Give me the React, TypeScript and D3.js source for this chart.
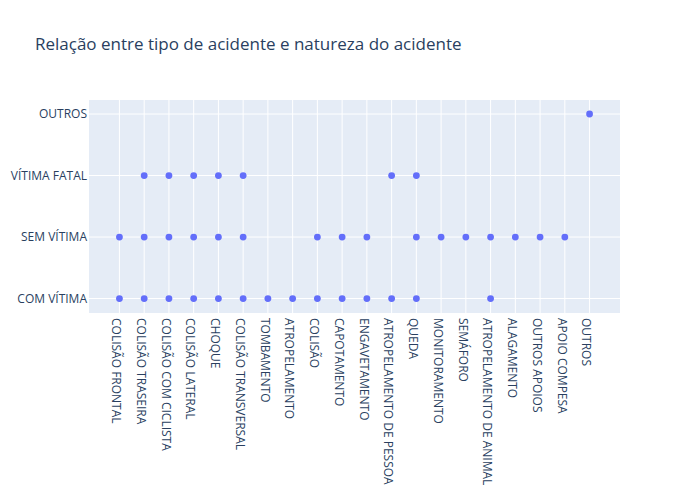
import React from "react";
import * as d3 from "d3";

const title = "Relação entre tipo de acidente e natureza do acidente";

const tipos = [
  "COLISÃO FRONTAL",
  "COLISÃO TRASEIRA",
  "COLISÃO COM CICLISTA",
  "COLISÃO LATERAL",
  "CHOQUE",
  "COLISÃO TRANSVERSAL",
  "TOMBAMENTO",
  "ATROPELAMENTO",
  "COLISÃO",
  "CAPOTAMENTO",
  "ENGAVETAMENTO",
  "ATROPELAMENTO DE PESSOA",
  "QUEDA",
  "MONITORAMENTO",
  "SEMÁFORO",
  "ATROPELAMENTO DE ANIMAL",
  "ALAGAMENTO",
  "OUTROS APOIOS",
  "APOIO COMPESA",
  "OUTROS",
];

const naturezas = ["COM VÍTIMA", "SEM VÍTIMA", "VÍTIMA FATAL", "OUTROS"];

// which accident types occur for each natureza
const comVitima = [
  "COLISÃO FRONTAL", "COLISÃO TRASEIRA", "COLISÃO COM CICLISTA", "COLISÃO LATERAL",
  "CHOQUE", "COLISÃO TRANSVERSAL", "TOMBAMENTO", "ATROPELAMENTO", "COLISÃO",
  "CAPOTAMENTO", "ENGAVETAMENTO", "ATROPELAMENTO DE PESSOA", "QUEDA",
  "ATROPELAMENTO DE ANIMAL",
];
const semVitima = [
  "COLISÃO FRONTAL", "COLISÃO TRASEIRA", "COLISÃO COM CICLISTA", "COLISÃO LATERAL",
  "CHOQUE", "COLISÃO TRANSVERSAL", "COLISÃO", "CAPOTAMENTO", "ENGAVETAMENTO",
  "QUEDA", "MONITORAMENTO", "SEMÁFORO", "ATROPELAMENTO DE ANIMAL", "ALAGAMENTO",
  "OUTROS APOIOS", "APOIO COMPESA",
];
const vitimaFatal = [
  "COLISÃO TRASEIRA", "COLISÃO COM CICLISTA", "COLISÃO LATERAL", "CHOQUE",
  "COLISÃO TRANSVERSAL", "ATROPELAMENTO DE PESSOA", "QUEDA",
];
const outros = ["OUTROS"];

const W = 700;
const H = 500;
const plot = { left: 89, right: 620, top: 100, bottom: 313 };
const font = '"Open Sans", verdana, arial, sans-serif';
const textColor = "#2a3f5f";

export default function App() {
  const idx = d3.scaleOrdinal<string, number>().domain(tipos).range(tipos.map((_, i) => i));
  const yIdx = d3.scaleOrdinal<string, number>().domain(naturezas).range(naturezas.map((_, i) => i));
  const x = d3.scaleLinear().domain([-1.23, tipos.length - 1 + 1.23]).range([plot.left, plot.right]);
  const y = d3.scaleLinear().domain([-0.235, 3.228]).range([plot.bottom, plot.top]);

  const points: { t: string; n: string }[] = [];
  const groups: [string, string[]][] = [
    ["COM VÍTIMA", comVitima],
    ["SEM VÍTIMA", semVitima],
    ["VÍTIMA FATAL", vitimaFatal],
    ["OUTROS", outros],
  ];
  groups.forEach(([n, list]) => list.forEach((t) => points.push({ t, n })));

  return (
    <svg
      width={W}
      height={H}
      style={{ position: "absolute", left: 0, top: 0, background: "#fff" }}
    >
      <rect x={0} y={0} width={W} height={H} fill="#fff" />
      <rect
        x={plot.left}
        y={plot.top}
        width={plot.right - plot.left}
        height={plot.bottom - plot.top}
        fill="#E5ECF6"
      />
      {tipos.map((t) => (
        <line
          key={"gx" + t}
          x1={x(idx(t))}
          x2={x(idx(t))}
          y1={plot.top}
          y2={plot.bottom}
          stroke="#fff"
          strokeWidth={1}
        />
      ))}
      {naturezas.map((n) => (
        <line
          key={"gy" + n}
          x1={plot.left}
          x2={plot.right}
          y1={y(yIdx(n))}
          y2={y(yIdx(n))}
          stroke="#fff"
          strokeWidth={1}
        />
      ))}
      {points.map((p, i) => (
        <circle
          key={"p" + i}
          cx={x(idx(p.t))}
          cy={y(yIdx(p.n))}
          r={3.4}
          fill="#636efa"
        />
      ))}
      {naturezas.map((n) => (
        <text
          key={"yl" + n}
          x={plot.left - 2}
          y={y(yIdx(n))}
          dy="0.35em"
          textAnchor="end"
          fontFamily={font}
          fontSize={12}
          fill={textColor}
        >
          {n}
        </text>
      ))}
      {tipos.map((t) => (
        <text
          key={"xl" + t}
          transform={`translate(${x(idx(t)) - 3},${plot.bottom + 5}) rotate(90)`}
          dy="0.35em"
          textAnchor="start"
          fontFamily={font}
          fontSize={12}
          fill={textColor}
        >
          {t}
        </text>
      ))}
      <text x={35} y={50} fontFamily={font} fontSize={17} fill={textColor}>
        {title}
      </text>
    </svg>
  );
}
